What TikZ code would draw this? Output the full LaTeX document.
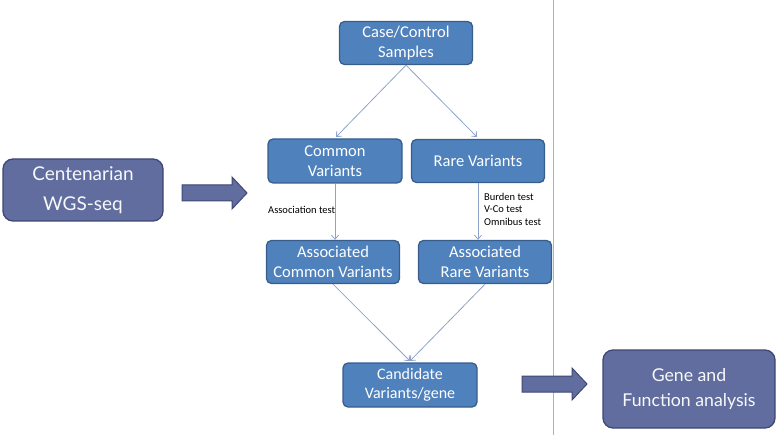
\documentclass[tikz,border=0pt]{standalone}
\usepackage{fontspec}
\usetikzlibrary{arrows.meta}
\setmainfont{Carlito}
\newfontfamily\gillfont{Lato}
\definecolor{boxblue}{HTML}{4F81BD}
\definecolor{boxedge}{HTML}{385D8A}
\definecolor{slate}{HTML}{616D9E}
\definecolor{slateedge}{HTML}{3E4873}
\definecolor{conn}{HTML}{8FA3C9}
\definecolor{divider}{HTML}{A3B3D3}
\begin{document}
\begin{tikzpicture}[x=1pt,y=-1pt,
  bluebox/.style={draw=boxedge,line width=1.3pt,fill=boxblue,rounded corners=5pt,
    text=white,align=center,font=\fontsize{16.5}{20}\selectfont,inner sep=0pt},
  slatebox/.style={draw=slateedge,line width=1.3pt,fill=slate,rounded corners=10pt,
    text=white!95!slate,align=center,inner sep=0pt},
  conn/.style={draw=conn,line width=0.8pt,-{Straight Barb[length=4pt,width=7pt]}},
  lbl/.style={font=\fontsize{10.5}{12.5}\selectfont,align=left,inner sep=0pt,anchor=west},
  bigarrow/.style={fill=slate,draw=slateedge,line width=1pt}
]
\useasboundingbox (0,0) rectangle (778,435);
\draw[divider,line width=0.8pt] (553,0) -- (553,435);

\node[slatebox,minimum width=160pt,minimum height=62pt,font=\gillfont\fontsize{19}{30}\selectfont] (cent) at (83,190) {Centenarian\\WGS-seq};
\node[slatebox,minimum width=172pt,minimum height=78pt,font=\gillfont\fontsize{17.7}{25}\selectfont] (gene) at (689,389) {Gene and\\Function analysis};

\node[bluebox,minimum width=133pt,minimum height=43pt] (cc) at (406,43) {Case/Control\\Samples};
\node[bluebox,minimum width=134pt,minimum height=44pt] (com) at (335,161) {Common\\Variants};
\node[bluebox,minimum width=133pt,minimum height=43pt] (rare) at (478,161) {Rare Variants};
\node[bluebox,minimum width=133pt,minimum height=43pt] (acom) at (333,262) {Associated\\Common Variants};
\node[bluebox,minimum width=133pt,minimum height=43pt] (arare) at (485,262) {Associated\\Rare Variants};
\node[bluebox,minimum width=134pt,minimum height=44pt,font=\fontsize{16}{19}\selectfont] (cand) at (410,385) {Candidate\\Variants/gene};

\coordinate (comtop) at (336,137);
\coordinate (raretop) at (477,137);
\draw[conn] (cc.south) -- (comtop);
\draw[conn] (cc.south) -- (raretop);
\draw[conn] (com.south -| 335,0) -- (acom.north -| 335,0);
\draw[conn] (rare.south) -- (arare.north -| 478,0);
\coordinate (candtop) at (410,361);
\draw[conn] (acom.south) -- (candtop);
\draw[conn] (arare.south) -- (candtop);

\node[lbl] (assoc) at (268,210) {Association test};
\node[lbl,anchor=north west] (burden) at (484,193) {Burden test\\V-Co test\\Omnibus test};

\filldraw[bigarrow] (182,185) -- (232,185) -- (232,177) -- (247,193) -- (232,209) -- (232,201) -- (182,201) -- cycle;
\filldraw[bigarrow] (522,376) -- (572,376) -- (572,368) -- (587,384) -- (572,400) -- (572,392) -- (522,392) -- cycle;
\end{tikzpicture}
\end{document}
